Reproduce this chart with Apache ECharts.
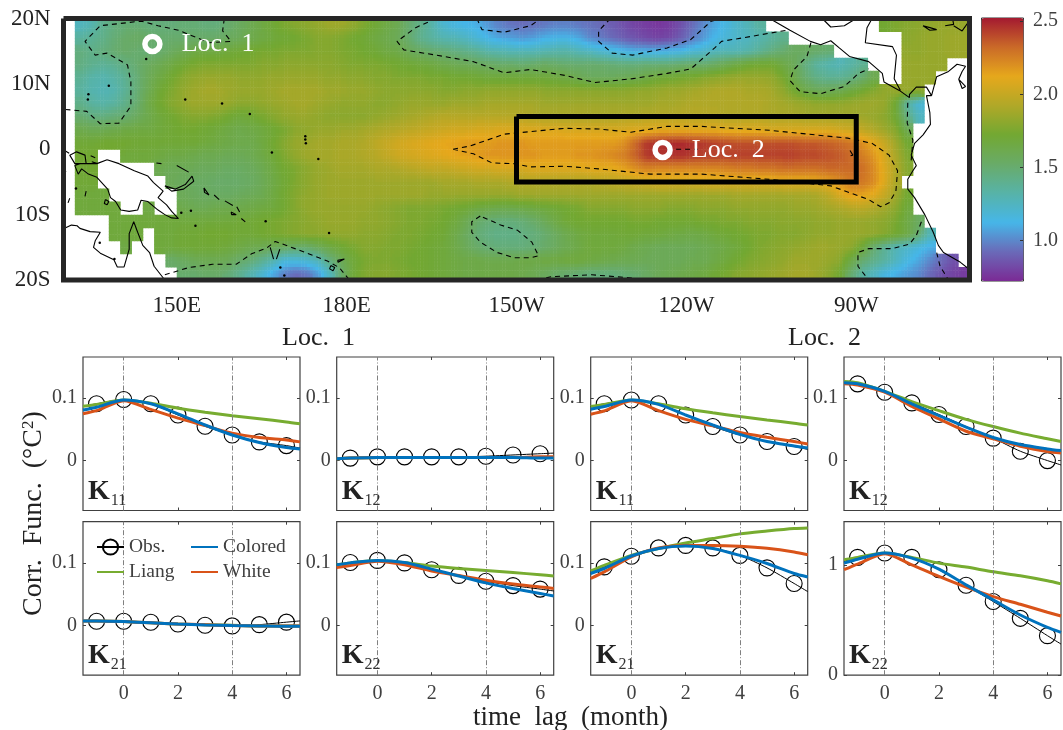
<!DOCTYPE html>
<html><head><meta charset="utf-8">
<style>html,body{margin:0;padding:0;background:#fff}#c{width:1063px;height:730px}</style>
<script src="https://cdn.jsdelivr.net/npm/echarts@6/dist/echarts.min.js"></script>
</head><body><div id="c"></div>
<script>
const _=null;
// ---------- map: variance field on a 2-degree grid, x100, north to south, 130E eastwards ----------
const sstRows=[
[_,125,130,140,145,148,148,146,146,146, 148,148,146,146,150,155,160,165,170,175, 178,180,183,186,186,182,176,170,165,160, 150,142,132,120,115,112,110,104,98,95, 93,94,96,98,98,96,94,92,88,84, 80,78,76,78,84,92,100,108,115,122, 128,135,_,_,_,_,_,_,_,_, _,_,172,176,178,180,182,184,184,184],
[_,135,138,142,148,152,154,152,150,150, 150,152,152,152,155,158,162,165,168,170, 172,175,178,178,176,172,170,166,162,158, 150,140,135,130,128,124,118,112,108,106, 104,106,110,112,112,108,100,96,92,88, 85,82,80,82,88,96,104,112,118,122, 125,130,135,140,_,_,_,_,_,_, _,_,_,_,180,182,184,184,186,186],
[_,145,142,146,150,152,150,148,150,155, 160,164,166,166,168,170,172,174,174,176, 176,176,178,178,176,174,172,170,166,164, 158,154,150,148,145,142,138,132,130,128, 128,128,130,132,132,128,125,120,116,112, 110,110,110,112,114,118,122,126,128,128, 132,138,145,150,155,155,152,150,_,_, _,_,_,_,182,182,184,184,186,186],
[_,145,140,138,140,146,150,156,160,165, 170,174,176,176,176,176,176,178,178,180, 180,180,180,180,178,176,176,176,174,172, 170,168,166,162,160,158,156,154,152,152, 150,152,154,152,150,150,150,150,148,146, 146,148,148,148,150,152,150,154,160,165, 170,172,172,165,158,145,135,130,128,132, 138,_,_,_,184,184,184,184,_,_],
[_,138,132,130,133,140,148,158,165,172, 178,182,184,184,184,182,182,182,184,184, 184,184,184,182,182,180,180,178,178,176, 176,176,174,174,172,172,170,168,168,168, 168,168,168,166,164,160,156,156,156,158, 160,164,168,170,172,174,178,180,182,184, 184,184,182,174,162,150,142,138,138,142, 150,160,_,_,184,184,184,_,_,_],
[_,135,130,128,130,138,148,160,170,176, 182,186,188,188,186,184,184,184,186,188, 188,188,188,186,186,184,184,182,180,180, 180,180,180,178,178,180,180,182,182,182, 182,182,180,180,180,180,180,180,180,180, 182,182,184,186,186,188,190,192,192,192, 190,190,188,182,172,164,158,158,160,166, 172,178,182,184,184,182,_,_,_,_],
[_,142,135,132,135,142,150,164,172,178, 182,186,186,186,184,180,180,182,184,186, 188,188,186,184,182,182,182,180,180,182, 184,184,184,184,186,186,186,188,188,188, 188,188,186,186,186,186,186,186,186,186, 186,186,188,188,190,192,192,192,192,192, 192,192,190,188,186,184,182,182,182,184, 186,186,184,170,135,118,_,_,_,_],
[_,150,145,145,148,150,156,162,168,172, 176,178,178,176,172,168,170,174,178,182, 184,184,182,180,180,180,180,182,184,186, 188,190,192,194,194,194,194,194,194,194, 194,192,190,190,190,190,190,190,190,192, 192,194,194,194,194,194,194,194,192,192, 192,192,190,190,190,188,188,188,188,188, 186,184,180,170,145,125,_,_,_,_],
[_,162,160,160,162,165,166,166,168,170, 172,172,170,168,165,162,164,166,170,174, 180,182,184,184,186,186,188,190,192,194, 196,198,200,202,204,204,206,206,208,208, 208,208,208,208,206,206,206,206,206,206, 208,208,210,210,210,210,210,210,208,208, 208,208,206,206,206,206,206,206,204,202, 198,192,186,178,160,_,_,_,_,_],
[_,170,170,172,172,172,170,170,170,170, 170,170,168,166,164,162,162,166,172,178, 184,186,188,188,190,190,192,196,200,204, 206,208,210,212,214,216,216,216,218,218, 218,216,216,216,216,216,216,216,216,220, 232,244,246,248,248,246,244,242,240,238, 238,238,238,238,238,236,236,234,232,228, 220,212,200,186,172,_,_,_,_,_],
[_,172,172,_,_,168,168,168,166,164, 164,162,160,160,158,158,160,164,170,176, 182,186,188,188,190,190,192,194,198,202, 204,206,208,210,212,214,216,218,218,218, 218,218,216,216,216,218,218,220,222,226, 234,244,246,246,246,244,242,242,242,242, 242,242,242,242,242,240,240,238,236,232, 226,218,206,190,176,_,_,_,_,_],
[_,170,172,_,_,_,_,_,160,158, 158,158,156,156,154,154,156,160,166,172, 176,180,184,186,188,188,188,190,190,192, 194,196,198,198,200,202,204,204,206,206, 206,208,208,208,208,208,210,210,210,214, 220,224,222,222,222,222,222,222,224,226, 226,228,228,230,230,230,230,232,232,232, 230,222,208,192,178,_,_,_,_,_],
[_,170,170,_,_,_,_,_,_,158, 156,154,154,152,152,152,154,158,164,170, 176,180,184,186,186,186,186,186,186,186, 186,186,186,188,188,188,190,190,190,192, 192,192,192,192,192,192,192,194,196,198, 200,202,204,204,204,204,206,206,206,206, 206,206,206,208,208,208,210,214,220,226, 228,222,208,190,_,_,_,_,_,_],
[_,168,168,168,_,_,_,_,_,_, 158,156,154,154,154,156,158,160,166,172, 178,182,184,186,186,186,186,186,186,186, 186,186,184,184,184,184,184,184,184,184, 186,186,186,186,186,186,186,186,186,186, 186,186,186,186,186,186,186,186,186,188, 188,188,188,188,188,188,190,196,206,214, 214,210,200,186,172,_,_,_,_,_],
[_,168,168,168,168,_,_,165,_,_, 162,160,160,162,162,162,164,166,168,172, 178,182,184,184,184,184,184,182,180,178, 176,176,176,174,172,170,166,164,162,162, 164,166,168,170,172,174,178,178,178,178, 180,180,180,178,178,178,180,180,180,182, 182,182,182,182,184,184,186,188,190,194, 196,192,188,180,168,_,_,_,_,_],
[_,_,_,_,168,168,168,168,168,168, 168,168,168,168,168,170,170,172,174,176, 178,180,182,184,184,184,182,182,180,178, 176,176,174,172,168,160,152,148,146,146, 148,152,158,165,170,172,172,172,172,172, 174,174,172,172,172,172,174,174,176,176, 178,178,178,180,180,180,182,182,184,184, 184,182,180,174,165,155,_,_,_,_],
[_,_,_,_,168,168,168,_,168,168, 170,170,172,172,172,170,170,172,174,176, 178,180,180,182,182,182,180,180,178,176, 176,174,172,170,164,156,148,144,142,142, 144,146,150,156,162,166,168,168,168,170, 170,168,168,166,165,164,165,168,170,172, 174,176,176,178,178,180,182,182,184,184, 184,182,178,172,165,150,128,_,_,_],
[_,_,_,_,_,165,_,_,168,168, 170,170,170,170,168,165,162,160,158,155, 152,152,158,165,170,174,178,178,176,176, 174,172,170,168,164,158,152,148,146,146, 146,148,152,156,160,164,168,168,168,166, 162,160,158,158,158,158,160,162,165,168, 172,176,178,180,182,184,186,186,184,182, 170,150,138,128,122,116,110,_,_,_],
[_,_,_,_,_,_,_,_,_,152, 155,158,160,160,158,152,148,140,130,118, 118,120,128,145,158,168,174,176,176,174, 172,172,170,168,166,164,164,162,162,162, 164,164,166,166,168,168,166,164,162,160, 160,158,158,158,158,160,160,164,168,172, 176,178,180,182,186,186,186,184,180,165, 150,142,135,125,115,108,100,92,85,_],
[_,_,_,_,_,_,_,_,_,_, 150,150,152,152,148,140,130,120,108,98, 92,95,105,125,150,168,176,178,178,176, 174,172,170,168,166,164,164,164,164,164, 162,160,156,152,150,148,146,146,146,148, 150,154,158,160,162,164,166,170,174,178, 180,182,184,186,188,188,186,180,172,150, 135,125,115,110,105,100,92,85,80,78]
];

// coast lines in [lon (0-360), lat]
const newGuinea=[[137.7,-1.6],[139.8,-2.2],[142.5,-3.3],[144.9,-4.1],[145.9,-5.1],[147.6,-6.4],[146.7,-7.4],[148.2,-8.5],[149.1,-9.5],[150.3,-10.6],[149.1,-10.5],[147.9,-10],[146.7,-9.3],[144.9,-8],[143.7,-7.8],[143.1,-9.3],[141.6,-9.5],[140.1,-9.3],[139.2,-8],[138.3,-7.4],[137.8,-6.1],[135.9,-4.3],[134.4,-3.8],[133.2,-3],[132.6,-3.8],[132,-2.5],[132.9,-2.2],[134,-2.2],[135.9,-2.2],[137.7,-1.6]];
const birdHead=[[134,-2.2],[133.8,-.9],[132.3,-.4],[131.1,-.9],[132,-2.2],[132.9,-2.2]];
const australia=[[130,-13.2],[130.2,-12.1],[131.4,-11.6],[132.4,-11.7],[132.9,-12.1],[134.7,-12.6],[136.5,-12.7],[135.6,-14],[135.3,-15],[136.5,-15.9],[138.9,-16.9],[139.5,-18],[140.7,-18],[141.6,-15.3],[141.6,-12.9],[142.4,-11.1],[143.1,-12.7],[144,-14.7],[145.2,-15.8],[146,-17.9],[147.9,-20]];
const newBritain=[[147.9,-5.6],[149.7,-6.1],[151.5,-5.4],[152.7,-4.1],[153,-4.9],[151.2,-6.1],[149.1,-6.4],[147.9,-5.6]];
const americas=[[254.7,20],[258.3,18.2],[261.9,16.5],[263.7,16],[265.5,16.6],[267,15.5],[268.8,14.2],[272.2,13.4],[274.6,11.6],[274.9,10.3],[277.6,9],[279.4,7.9],[279.4,8.4],[280.6,9.5],[282.4,9.5],[283.3,8.2],[282.4,8.2],[283,5.6],[283.1,3.8],[281.8,2.2],[280.3,.9],[279.7,-.9],[280.6,-2.5],[280,-3.3],[279.1,-4.6],[279.1,-6.1],[280.3,-7.4],[282.1,-10],[283.6,-12.7],[284.5,-14.7],[285.4,-15.8],[288.4,-17.3],[290,-18.4]];
const yucatan=[[264,20],[265.5,18.7],[267.9,18.9],[269.4,19.7],[269.8,20]];
const caribbean=[[272.8,20],[271.9,18.6],[271.6,16.3],[276.4,15.7],[277.1,14.4],[276.7,10.8],[277.8,9]];
const venezuela=[[283.3,8.2],[284.2,11.1],[286.3,11.9],[287.8,13],[289.3,12.7],[288.7,11.9],[288.1,10.7],[289.3,9.6],[288.7,9.3],[288.1,10.7]];
const cuba=[[281.8,18.9],[283,18.6],[284.2,18.3],[283,18.2],[281.8,18.9]];
const hispaniola=[[285.7,18.9],[287.2,19.1],[287,20],[290,19.7],[288.7,18.1],[287.2,18.9]];
const islandBits=[[[150,-2.5],[152.1,-3.5]],[[146.4,-2.1],[147.3,-2.2]],[[154.8,-5.9],[155.7,-7],[154.9,-6.6],[154.8,-5.9]],[[156.6,-7],[157.5,-7.7]],[[158.5,-7.9],[159.9,-8.6]],[[160.6,-8.8],[161.1,-9.6]],[[159.6,-9.6],[160.5,-10],[159.7,-10],[159.6,-9.6]],[[161.4,-10.6],[162.1,-11.1]],[[166.5,-15],[167.1,-16.8]],[[167.6,-16.8],[168.2,-15.3]],[[177.2,-17.8],[177.9,-18.1],[177.6,-18.6],[177,-18.3],[177.2,-17.8]],[[178.4,-17],[179.6,-16.8],[178.5,-17.3],[178.4,-17]],[[130,-2],[130.4,-3.5],[130,-3.2]],[[134,-6.4],[133.8,-7.2]],[[131.1,-7.5],[130.8,-8.2]],[[137.4,-7.7],[138,-8],[137.7,-8.5],[137.2,-8.3],[137.4,-7.7]],[[130.2,-.2],[131,-.6]],[[134.8,-1],[135.6,-1.3]],[[135,-1.9],[136,-2.2]],[[268.9,-.2],[269.4,-.9],[269,-1]]];
const islandDots=[[151.5,7.6],[158,7],[162.9,5.4],[166.8,-.5],[175,-1.5],[176.9,-12.8],[165.7,-11],[152.5,-9.4],[153.3,-11.7],[138,9.7],[144.6,13.8],[136.4,-14.3],[139,-16.8],[168.3,-18.1],[169,-19.3],[132.2,-6],[150.8,-9.7],[172.7,2],[172.7,1.5],[172.8,.9],[134.4,8.4],[134.3,7.6]];

// dashed contours in [lon, lat]
const contourNW=[[158.4,20],[158.1,18.1],[159.6,16.5],[155.7,16.3],[150.3,18.2],[146.7,18.9],[143.7,19.6],[136.5,18.9],[133.8,16.5],[135.6,14.4],[137.7,14.7],[141.3,12.9],[141.9,10.3],[141.9,6.6],[139.8,4],[136.5,3.9],[134.1,5.8],[130.2,6.1]];
const contourNorth=[[195.8,20],[192.2,18.6],[188.9,16.5],[190.1,15.2],[195.8,14.4],[202.4,13.4],[207.8,11.7],[212.5,12.2],[218.5,11.3],[223.9,10.2],[230.5,10.8],[236.6,11.6],[240.8,12.3],[245,15.5],[246.2,16.5],[251.7,17.3],[257.7,18.2]];
const contourPurple=[[226.6,20],[224.5,18.1],[224.5,16.5],[226.9,14.7],[230.5,14.4],[236.6,15.5],[240.8,16.8],[244.4,19.6],[246.2,20]];
const contourPurple2=[[203,20],[203.9,18.3],[207.8,17.9],[212.5,18.9],[214.3,20]];
const contourMexico=[[262,16.3],[261.3,14.2],[258.9,12.1],[258.3,10.5],[260.1,8.8],[263.7,8.5],[267.9,9.6],[270.4,11.6],[272.2,12.3]];
const contourTongue=[[198.8,0],[201.8,.5],[207.8,2.3],[212.5,2.7],[218.5,3.2],[224.5,3.1],[230.2,2.6],[236.6,3.5],[242.6,3.5],[254.7,2.9],[268.5,1.7],[272.8,.9],[275.8,-.9],[277.3,-3.3],[277,-6.4],[275.8,-8.2],[274.3,-8.8],[272.2,-7.7],[265.5,-5.6],[254.7,-4.6],[242.6,-3.8],[233.6,-3.8],[224.5,-3],[218.5,-2.6],[212.5,-2.7],[209.6,-2.2],[205.7,-2.1],[202.4,-.7],[198.8,0]];
const contourCore=[[236.6,0],[242,0]];
const contourBlob=[[203.6,-10.2],[202.1,-11.1],[202.1,-12.7],[203.6,-14.2],[206.6,-15.8],[209.6,-16.6],[212.5,-16.6],[213.9,-16.3],[212.7,-14.2],[210.2,-12.4],[207.2,-11.6],[203.6,-10.2]];
const contourSouthW=[[147.9,-19.2],[152.1,-18.1],[156.3,-17.6],[160.5,-17.6],[163.2,-16],[165.9,-15.1],[167.4,-14.1],[171.2,-15.3],[176.6,-17.1],[178.7,-18.1],[180.5,-20]];
const contourSouthC=[[213.7,-20],[216.1,-19.5],[223.3,-19.2],[230.5,-19.7],[232,-20]];
const contourSouthE=[[281.5,-11.1],[280.6,-13.2],[279.4,-14.5],[276.4,-15.2],[272.2,-15.2],[270.3,-15.8],[270.3,-17.9],[272.2,-20]];
const contourPeru=[[284.2,-15.8],[284.8,-17.9],[286.3,-20]];
const contourEcuador=[[279.1,7.1],[279,4],[280,1.4],[279.7,-1.7]];

const boxLonLat=[[210,5],[270,5],[270,-5],[210,-5],[210,5]];
const frameLonLat=[[130,20],[290,20],[290,-20],[130,-20],[130,20]];
const locations=[['Loc. 1',145.7,16.1],['Loc. 2',235.8,-.1]];
const mapLonTicks=[150,180,210,240,270];
const mapLonLabels={150:'150E',180:'180E',210:'150W',240:'120W',270:'90W'};
const mapLatLabels={20:'20N',10:'10N',0:'0','-10':'10S','-20':'20S'};
const colorbarTicks=[100,150,200,250];
const colorStops=['#7b2a95','#6a6ab8','#46b6e8','#57b3a8','#69ab68','#72a832','#b0a828','#e6a81c','#ca6a28','#a41a30'];

// ---------- correlation panels ----------
const lags=[-1.5,-1,0,1,2,3,4,5,6,6.5];
const L1K11obs=[.087,.091,.098,.091,.073,.055,.041,.030,.024,.020];
const L1K11liang=[.087,.090,.097,.092,.084,.0775,.0717,.067,.062,.059];
const L1K11white=[.075,.080,.096,.082,.068,.056,.044,.037,.033,.030];
const L1K11colored=[.081,.0855,.097,.091,.075,.057,.041,.029,.021,.0187];
const L1K12obs=[.004,.004,.006,.006,.006,.006,.007,.009,.011,.012];
const L1K12liang=[.003,.004,.005,.005,.005,.005,.005,.005,.005,.005];
const L1K12white=[.003,.004,.005,.005,.005,.005,.005,.005,.006,.006];
const L1K12colored=[.003,.004,.005,.005,.005,.005,.005,.005,.004,.004];
const L1K21obs=[.0065,.0064,.0064,.0048,.002,0,-.001,.001,.005,.007];
const L1K21liang=[.007,.007,.006,.004,.002,.001,0,-.001,-.001,-.001];
const L1K21white=[.007,.007,.006,.004,.002,.001,-.0005,-.001,-.001,-.001];
const L1K21colored=[.007,.007,.006,.004,.002,.0005,-.0005,-.001,-.0016,-.0016];
const L1K22obs=[.097,.1005,.104,.100,.089,.080,.0706,.0636,.058,.055];
const L1K22liang=[.097,.100,.104,.1005,.095,.091,.0877,.0845,.081,.079];
const L1K22white=[.0925,.0957,.1027,.097,.087,.0797,.072,.066,.0615,.059];
const L1K22colored=[.097,.100,.104,.1005,.090,.079,.068,.059,.051,.047];
const L2K11obs=[.087,.091,.097,.091,.073,.0545,.041,.0305,.0225,.018];
const L2K11liang=[.0866,.090,.097,.091,.083,.0765,.0706,.065,.060,.057];
const L2K11white=[.0743,.0797,.0957,.080,.066,.0556,.045,.0374,.0305,.0267];
const L2K11colored=[.0824,.0866,.097,.090,.073,.057,.042,.0305,.0235,.020];
const L2K12obs=[.126,.123,.1096,.0925,.0738,.0545,.036,.015,0,-.007];
const L2K12liang=[.1267,.1246,.111,.0946,.080,.066,.0545,.044,.035,.0305];
const L2K12white=[.123,.121,.1096,.087,.0668,.047,.035,.023,.0144,.012];
const L2K12colored=[.1246,.123,.111,.091,.072,.0535,.037,.0257,.0187,.016];
const L2K21obs=[.084,.0936,.1107,.124,.128,.124,.112,.092,.067,.054];
const L2K21liang=[.087,.096,.112,.123,.132,.139,.1465,.151,.155,.156];
const L2K21white=[.075,.0856,.1096,.124,.128,.128,.1267,.1235,.1176,.113];
const L2K21colored=[.083,.091,.111,.123,.127,.123,.112,.099,.083,.0775];
const L2K22obs=[1.03,1.067,1.106,1.067,.9545,.815,.667,.515,.358,.282];
const L2K22liang=[1.045,1.067,1.106,1.067,1.015,.979,.936,.90,.855,.827];
const L2K22white=[.955,1.006,1.10,1.00,.894,.797,.712,.642,.57,.536];
const L2K22colored=[1.015,1.05,1.106,1.06,.96,.818,.682,.545,.433,.388];

const xTicks=[0,2,4,6];
const lagMarks=[0,4];
const yTicksSmall=[0,.1];
const yTicksLarge=[0,1];

const serif='"Liberation Serif","DejaVu Serif",serif';
const txt='#404040';
const cGreen='#77ac30',cOrange='#d95319',cBlue='#0072bd';

const panels=[
 {sub:'11',left:83, top:357,obs:L1K11obs,liang:L1K11liang,white:L1K11white,colored:L1K11colored},
 {sub:'12',left:336.7,top:357,obs:L1K12obs,liang:L1K12liang,white:L1K12white,colored:L1K12colored},
 {sub:'21',left:83, top:521.7,obs:L1K21obs,liang:L1K21liang,white:L1K21white,colored:L1K21colored,xl:true},
 {sub:'22',left:336.7,top:521.7,obs:L1K22obs,liang:L1K22liang,white:L1K22white,colored:L1K22colored,xl:true},
 {sub:'11',left:590.7,top:357,obs:L2K11obs,liang:L2K11liang,white:L2K11white,colored:L2K11colored},
 {sub:'12',left:844, top:357,obs:L2K12obs,liang:L2K12liang,white:L2K12white,colored:L2K12colored},
 {sub:'21',left:590.7,top:521.7,obs:L2K21obs,liang:L2K21liang,white:L2K21white,colored:L2K21colored,xl:true},
 {sub:'22',left:844, top:521.7,obs:L2K22obs,liang:L2K22liang,white:L2K22white,colored:L2K22colored,xl:true,big:true}
];
const PW=217,PH=153.5;
const noLine={show:false,onZero:false};

function joinLines(list){const out=[];list.forEach(l=>{l.forEach(p=>out.push(p));out.push([null,null]);});return out;}

// the field is shaded like an interpolated pcolor: each cell is painted with a bilinear ramp between cell centres
const VMIN=72,VMAX=252,SUB=4;
const lut=[];for(let k=0;k<=VMAX-VMIN;k++)lut.push(echarts.color.lerp(k/(VMAX-VMIN),colorStops));
const shade=v=>lut[Math.max(0,Math.min(VMAX-VMIN,Math.round(v-VMIN)))];
const heatData=[];
sstRows.forEach((row,j)=>row.forEach((v,i)=>{if(v!==null&&v!==undefined)heatData.push([130+2*i+1,20-2*j-1,v,i,j]);}));
function cellValue(i,j,fallback){const r=sstRows[j];const v=r?r[i]:null;return (v===null||v===undefined)?fallback:v;}
function renderCell(params,api){
 const i=api.value(3),j=api.value(4),v=api.value(2);
 const tl=api.coord([130+2*i,20-2*j]),size=api.size([2,2]);
 const children=[];
 for(let a=0;a<SUB;a++)for(let b=0;b<SUB;b++){
  const u=(a+.5)/SUB-.5,w=(b+.5)/SUB-.5;
  const di=u<0?-1:1,dj=w<0?-1:1,fu=Math.abs(u),fw=Math.abs(w);
  const val=v*(1-fu)*(1-fw)+cellValue(i+di,j,v)*fu*(1-fw)+cellValue(i,j+dj,v)*(1-fu)*fw+cellValue(i+di,j+dj,v)*fu*fw;
  children.push({type:'rect',silent:true,shape:{x:tl[0]+a*size[0]/SUB,y:tl[1]+b*size[1]/SUB,width:size[0]/SUB+.5,height:size[1]/SUB+.5},style:{fill:shade(val)}});
 }
 return {type:'group',children};
}

const grid=[
 {left:63.5,top:18.5,width:906,height:261.5},
 {left:981,top:18.3,width:42,height:263}
];
const xAxis=[
 {gridIndex:0,type:'value',min:130,max:290,position:'bottom',axisLine:noLine,axisTick:{show:false},splitLine:{show:false},
  axisLabel:{customValues:mapLonTicks,formatter:v=>mapLonLabels[v],fontFamily:serif,fontSize:23,color:'#222',margin:14}},
 {gridIndex:1,type:'value',min:0,max:1,show:false,axisLine:noLine}
];
const yAxis=[
 {gridIndex:0,type:'value',min:-20,max:20,interval:10,position:'left',axisLine:noLine,axisTick:{show:false},splitLine:{show:false},
  axisLabel:{formatter:v=>mapLatLabels[v],fontFamily:serif,fontSize:23,color:'#222',margin:13}},
 {gridIndex:1,type:'value',min:VMIN,max:VMAX,position:'right',z:8,axisLine:noLine,splitLine:{show:false},
  axisTick:{show:true,inside:true,length:3,customValues:colorbarTicks,lineStyle:{color:'#333'}},
  axisLabel:{customValues:colorbarTicks,formatter:v=>(v/100).toFixed(1),fontFamily:serif,fontSize:20,color:txt,margin:10}}
];
const series=[
 {type:'custom',xAxisIndex:0,yAxisIndex:0,data:heatData,encode:{x:0,y:1},renderItem:renderCell,progressive:0,silent:true,clip:true,z:1},
 {type:'line',xAxisIndex:0,yAxisIndex:0,data:joinLines([contourNW,contourNorth,contourPurple,contourPurple2,contourMexico,contourTongue,contourCore,contourBlob,contourSouthW,contourSouthC,contourSouthE,contourPeru,contourEcuador]),showSymbol:false,symbol:'none',silent:true,z:2,lineStyle:{color:'#000',width:1.1,type:[5,4]}},
 {type:'line',xAxisIndex:0,yAxisIndex:0,data:joinLines([newGuinea,birdHead,australia,newBritain,americas,yucatan,caribbean,venezuela,cuba,hispaniola].concat(islandBits)),showSymbol:false,symbol:'none',silent:true,z:3,lineStyle:{color:'#000',width:1.1}},
 {type:'scatter',xAxisIndex:0,yAxisIndex:0,data:islandDots,symbolSize:2.5,itemStyle:{color:'#000',opacity:1},silent:true,z:3},
 {type:'line',xAxisIndex:0,yAxisIndex:0,data:boxLonLat,symbol:'none',silent:true,z:4,lineStyle:{color:'#000',width:5,join:'miter'}},
 {type:'scatter',xAxisIndex:0,yAxisIndex:0,data:locations.map(l=>({name:l[0],value:[l[1],l[2]]})),symbolSize:15,silent:true,z:6,
  itemStyle:{color:'rgba(0,0,0,0)',borderColor:'#fff',borderWidth:5.5,opacity:1},
  label:{show:true,position:'right',distance:19,formatter:p=>p.name.replace(' ','  '),color:'#fff',opacity:1,fontFamily:serif,fontSize:26}},
 {type:'line',xAxisIndex:0,yAxisIndex:0,data:frameLonLat,symbol:'none',clip:false,silent:true,z:7,lineStyle:{color:'#262626',width:5,join:'miter'}}
];
const graphic=[];
panels.forEach(p=>{
 const gi=grid.length,xi=xAxis.length,yi=yAxis.length;
 grid.push({left:p.left,top:p.top,width:PW,height:PH,show:true,borderColor:'#404040',borderWidth:1.2,backgroundColor:'#fff'});
 const tick={show:true,inside:true,length:3,customValues:xTicks,lineStyle:{color:'#404040'}};
 const yVals=p.big?yTicksLarge:yTicksSmall;
 const yRange=p.big?{min:0,max:1.39}:{min:-.08,max:.166};
 xAxis.push({gridIndex:gi,type:'value',min:-1.5,max:6.5,position:'bottom',axisLine:noLine,splitLine:{show:false},axisTick:tick,
  axisLabel:p.xl?{customValues:xTicks,fontFamily:serif,fontSize:20,color:txt,margin:9}:{show:false}});
 xAxis.push({gridIndex:gi,type:'value',min:-1.5,max:6.5,position:'top',axisLine:noLine,splitLine:{show:false},axisTick:tick,axisLabel:{show:false}});
 const ytick={show:true,inside:true,length:3,customValues:yVals,lineStyle:{color:'#404040'}};
 yAxis.push(Object.assign({gridIndex:gi,type:'value',position:'left',axisLine:noLine,splitLine:{show:false},axisTick:ytick,
  axisLabel:{customValues:yVals,formatter:v=>String(v),fontFamily:serif,fontSize:20,color:txt,margin:6}},yRange));
 yAxis.push(Object.assign({gridIndex:gi,type:'value',position:'right',axisLine:noLine,splitLine:{show:false},axisTick:ytick,axisLabel:{show:false}},yRange));
 const pts=a=>a.map((v,k)=>[lags[k],v]);
 const common={type:'line',xAxisIndex:xi,yAxisIndex:yi,silent:true,symbol:'none',smooth:.25};
 series.push(Object.assign({},common,{name:'Obs.',symbol:'circle',symbolSize:16,showAllSymbol:true,z:3,
  data:p.obs.map((v,k)=>{const d={value:[lags[k],v]};if(k===0||k===lags.length-1)d.symbol='none';return d;}),
  itemStyle:{color:'rgba(0,0,0,0)',borderColor:'#000',borderWidth:1.1},lineStyle:{color:'#000',width:1},
  markLine:{silent:true,symbol:'none',label:{show:false},animation:false,lineStyle:{color:'#808080',width:1,type:[5,2,1,2]},data:lagMarks.map(m=>({xAxis:m}))}}));
 series.push(Object.assign({},common,{name:'Liang',data:pts(p.liang),z:4,itemStyle:{color:cGreen},lineStyle:{color:cGreen,width:3}}));
 series.push(Object.assign({},common,{name:'White',data:pts(p.white),z:5,itemStyle:{color:cOrange},lineStyle:{color:cOrange,width:3}}));
 series.push(Object.assign({},common,{name:'Colored',data:pts(p.colored),z:6,itemStyle:{color:cBlue},lineStyle:{color:cBlue,width:3}}));
 graphic.push({type:'text',left:p.left+5,top:p.top+PH-33,z:20,silent:true,
  style:{text:'{k|K}{s|'+p.sub+'}',rich:{k:{font:'bold 28px '+serif,fill:'#222',verticalAlign:'bottom'},s:{font:'16px '+serif,fill:'#333',verticalAlign:'bottom',padding:[0,0,-3,1]}}}});
});
graphic.push({type:'text',left:282,top:325,silent:true,style:{text:'Loc.  1',font:'26px '+serif,fill:'#222'}});
graphic.push({type:'text',left:788,top:325,silent:true,style:{text:'Loc.  2',font:'26px '+serif,fill:'#222'}});
graphic.push({type:'text',left:473,top:704,silent:true,style:{text:'time  lag  (month)',font:'27px '+serif,fill:'#222'}});
graphic.push({type:'text',x:20,y:616,rotation:Math.PI/2,silent:true,style:{text:'Corr.  Func.  ({d|°}C{u|2})',font:'28px '+serif,fill:'#222',rich:{d:{font:'28px '+serif,fill:'#222'},u:{font:'17px '+serif,fill:'#222',verticalAlign:'top'}}}});

const legendText={fontFamily:serif,fontSize:19.5,color:txt};
const chart=echarts.init(document.getElementById('c'),null,{renderer:'canvas'});
chart.setOption({
 animation:false,backgroundColor:'#fff',
 grid,xAxis,yAxis,series,graphic,
 visualMap:{type:'continuous',min:VMIN,max:VMAX,dimension:2,seriesIndex:0,show:true,calculable:false,left:981,top:17.5,itemWidth:42,itemHeight:263,padding:0,borderColor:'#333',borderWidth:1,inRange:{color:colorStops},textStyle:{color:'rgba(0,0,0,0)'},text:null,hoverLink:false},
 legend:[
  {left:96,top:537,padding:0,orient:'vertical',itemGap:5,itemWidth:27,itemHeight:19,selectedMode:false,data:['Obs.',{name:'Liang',itemStyle:{opacity:0}}],textStyle:legendText,z:20},
  {left:190,top:537,padding:0,orient:'vertical',itemGap:5,itemWidth:27,itemHeight:19,selectedMode:false,data:[{name:'Colored',itemStyle:{opacity:0}},{name:'White',itemStyle:{opacity:0}}],textStyle:legendText,z:20}
 ]
});
</script></body></html>
